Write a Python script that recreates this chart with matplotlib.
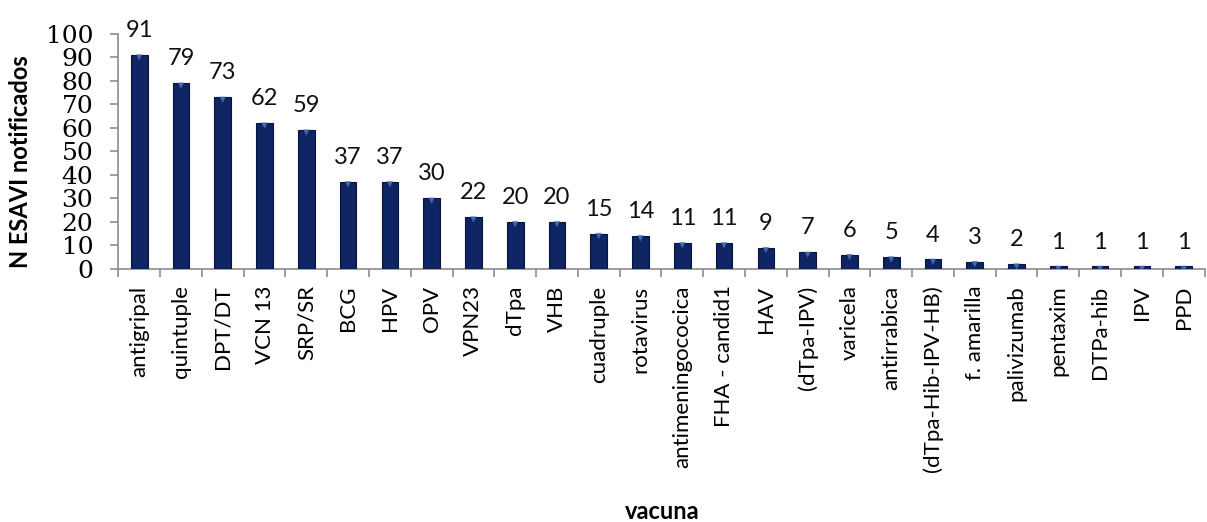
import matplotlib
matplotlib.use("Agg")
import matplotlib.pyplot as plt
import numpy as np

vacunas = ["antigripal", "quintuple", "DPT/DT", "VCN 13", "SRP/SR", "BCG", "HPV", "OPV",
           "VPN23", "dTpa", "VHB", "cuadruple", "rotavirus", "antimeningococica",
           "FHA - candid1", "HAV", "(dTpa-IPV)", "varicela", "antirrabica",
           "(dTpa-Hib-IPV-HB)", "f. amarilla", "palivizumab", "pentaxim", "DTPa-hib",
           "IPV", "PPD"]
notificados = [91, 79, 73, 62, 59, 37, 37, 30, 22, 20, 20, 15, 14, 11, 11, 9, 7, 6, 5, 4, 3,
               2, 1, 1, 1, 1]

fig = plt.figure(figsize=(12.07, 5.22), dpi=100)
ax = fig.add_axes([0.098, 0.485, 0.900, 0.450])

x = np.arange(len(vacunas))
bar_color = "#0e2463"
ax.bar(x, notificados, width=0.40, color=bar_color, edgecolor="#07143d", linewidth=0.8, zorder=3)
# small bevel highlight at the top of each bar
ax.scatter(x, np.array(notificados) - 1.0, marker="v", s=20, color="#4c74b8",
           edgecolors="none", zorder=4, alpha=0.85)

for xi, v in zip(x, notificados):
    ax.annotate(str(v), (xi, v), xytext=(0, 10), textcoords="offset points",
                ha="center", va="bottom", fontsize=17, family="Lato", color="#111111")

ax.set_xlim(-0.5, len(vacunas) - 0.5)
ax.set_ylim(0, 100)
ax.set_yticks(range(0, 101, 10))
ax.set_yticklabels([str(t) for t in range(0, 101, 10)], family="DejaVu Serif", fontsize=18)

ax.set_xticks(x)
ax.set_xticklabels(vacunas, rotation=90, family="Lato", fontsize=16, va="top")
ax.set_xticks(np.arange(-0.5, len(vacunas), 1.0), minor=True)
ax.tick_params(axis="x", which="major", length=0, pad=12)
ax.tick_params(axis="x", which="minor", length=6, color="#8c8c8c", width=1.2)
ax.tick_params(axis="y", length=6, color="#8c8c8c", width=1.2, pad=12)

for side in ("top", "right"):
    ax.spines[side].set_visible(False)
for side in ("left", "bottom"):
    ax.spines[side].set_color("#8c8c8c")
    ax.spines[side].set_linewidth(1.2)

ax.set_ylabel("N ESAVI notificados", fontsize=17, fontweight="bold", family="Lato")
ax.yaxis.set_label_coords(-0.079, 0.455)
fig.text(0.549, 0.021, "vacuna", ha="center", va="center", fontsize=17,
         fontweight="bold", family="Lato")

fig.savefig("out.png", dpi=100)
